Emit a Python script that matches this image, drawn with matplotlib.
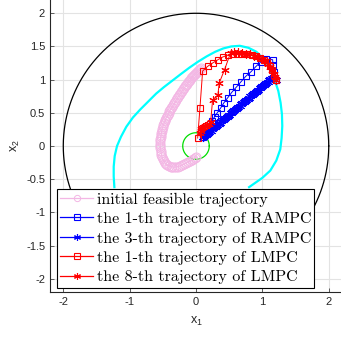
import numpy as np
import matplotlib
matplotlib.use("Agg")
import matplotlib.pyplot as plt
from matplotlib.lines import Line2D

# ---------------- data ----------------
init_x = [0.08, 0.065, 0.05, 0.035, 0.02, 0.005, -0.01, -0.025, -0.04, -0.055, -0.07, -0.085,
          -0.10, -0.115, -0.13, -0.145, -0.16, -0.175, -0.19, -0.205, -0.22, -0.235, -0.25,
          -0.265, -0.28, -0.295, -0.31, -0.325, -0.34, -0.355, -0.37, -0.385, -0.40, -0.41,
          -0.42, -0.435, -0.45, -0.46, -0.47, -0.48, -0.49, -0.50, -0.51, -0.515, -0.52,
          -0.525, -0.53, -0.535, -0.54, -0.54, -0.54, -0.535, -0.53, -0.525, -0.52, -0.51,
          -0.50, -0.485, -0.47, -0.45, -0.43, -0.405, -0.38, -0.355, -0.33, -0.30, -0.27,
          -0.24, -0.21, -0.18, -0.15, -0.12, -0.09, -0.065, -0.04, -0.02, 0.00]
init_y = [1.17, 1.155, 1.14, 1.125, 1.11, 1.095, 1.08, 1.065, 1.05, 1.035, 1.02, 1.00,
          0.98, 0.96, 0.94, 0.92, 0.90, 0.88, 0.86, 0.835, 0.81, 0.79, 0.77,
          0.745, 0.72, 0.695, 0.67, 0.645, 0.62, 0.595, 0.57, 0.545, 0.52, 0.495,
          0.47, 0.445, 0.42, 0.395, 0.37, 0.345, 0.32, 0.29, 0.26, 0.23, 0.20,
          0.17, 0.14, 0.105, 0.07, 0.035, 0.00, -0.035, -0.07, -0.105, -0.14, -0.17,
          -0.20, -0.225, -0.25, -0.27, -0.29, -0.30, -0.31, -0.315, -0.32, -0.315, -0.31,
          -0.30, -0.29, -0.275, -0.26, -0.24, -0.22, -0.205, -0.19, -0.175, -0.16]

rampc1_x = [1.20, 1.18, 1.16, 1.155, 1.05, 0.98, 0.905, 0.83, 0.75, 0.68, 0.61, 0.54, 0.48,
            0.42, 0.37, 0.32, 0.28, 0.24, 0.21, 0.18, 0.16, 0.14, 0.12, 0.11, 0.10]
rampc1_y = [1.00, 1.12, 1.22, 1.30, 1.31, 1.27, 1.20, 1.12, 1.05, 0.97, 0.89, 0.81, 0.73,
            0.65, 0.57, 0.50, 0.44, 0.38, 0.33, 0.28, 0.24, 0.21, 0.18, 0.16, 0.14]

rampc3_x = [1.20, 1.15, 1.12, 1.10, 1.08, 1.06, 1.04, 1.02, 1.00, 0.98, 0.96, 0.94, 0.92,
            0.90, 0.88, 0.86, 0.84, 0.82, 0.80, 0.78, 0.76, 0.74, 0.72, 0.70, 0.68, 0.66,
            0.64, 0.62, 0.60, 0.58, 0.56, 0.54, 0.52, 0.50, 0.48, 0.46, 0.44, 0.42, 0.40,
            0.38, 0.36, 0.34, 0.32, 0.30, 0.28, 0.26, 0.24, 0.22, 0.20, 0.18, 0.165, 0.15,
            0.135, 0.12, 0.11, 0.10]
rampc3_y = [1.00, 1.030, 1.004, 0.987, 0.970, 0.953, 0.936, 0.918, 0.901, 0.884, 0.867,
            0.850, 0.833, 0.816, 0.798, 0.781, 0.764, 0.747, 0.730, 0.713, 0.696, 0.678,
            0.661, 0.644, 0.627, 0.610, 0.593, 0.576, 0.558, 0.541, 0.524, 0.507, 0.490,
            0.473, 0.456, 0.439, 0.421, 0.404, 0.387, 0.370, 0.353, 0.336, 0.319, 0.301,
            0.284, 0.267, 0.250, 0.233, 0.216, 0.199, 0.186, 0.173, 0.160, 0.147, 0.139,
            0.130]

lmpc1_x = [1.20, 1.18, 1.15, 1.11, 1.07, 1.02, 0.96, 0.90, 0.84, 0.77, 0.70, 0.63, 0.56,
           0.48, 0.40, 0.33, 0.25, 0.175, 0.10, 0.06, 0.025]
lmpc1_y = [1.00, 1.07, 1.14, 1.20, 1.26, 1.30, 1.33, 1.35, 1.37, 1.38, 1.38, 1.38, 1.38,
           1.37, 1.34, 1.30, 1.25, 1.20, 1.13, 0.58, 0.12]

lmpc8_x = [1.20, 1.19, 1.17, 1.15, 1.12, 1.08, 1.04, 0.99, 0.94, 0.88, 0.82, 0.76, 0.70,
           0.64, 0.58, 0.52, 0.43, 0.35, 0.33, 0.25, 0.22, 0.19, 0.16, 0.13, 0.11, 0.09,
           0.08, 0.07, 0.06]
lmpc8_y = [1.00, 1.04, 1.09, 1.14, 1.19, 1.24, 1.28, 1.31, 1.34, 1.36, 1.38, 1.39, 1.40,
           1.41, 1.42, 1.40, 1.15, 0.95, 0.77, 0.69, 0.36, 0.33, 0.32, 0.30, 0.29, 0.27,
           0.25, 0.22, 0.19]

# visible boundary of the cyan set
cyan_x = [0.80, 1.00, 1.12, 1.21, 1.27, 1.29, 1.30, 1.295, 1.275, 1.24, 1.18, 1.10, 1.01,
          0.91, 0.79, 0.66, 0.53, 0.41, 0.29, 0.16, 0.03, -0.10, -0.22, -0.35, -0.48,
          -0.60, -0.72, -0.84, -0.95, -1.05, -1.13, -1.19, -1.225, -1.24, -1.24, -1.23]
cyan_y = [-0.62, -0.48, -0.37, -0.22, -0.05, 0.12, 0.30, 0.48, 0.65, 0.83, 1.01, 1.18, 1.32,
          1.42, 1.48, 1.51, 1.50, 1.47, 1.42, 1.35, 1.27, 1.18, 1.09, 0.99, 0.89,
          0.79, 0.67, 0.55, 0.43, 0.29, 0.14, 0.00, -0.15, -0.31, -0.46, -0.62]

labels = ["initial feasible trajectory",
          "the 1-th trajectory of RAMPC",
          "the 3-th trajectory of RAMPC",
          "the 1-th trajectory of LMPC",
          "the 8-th trajectory of LMPC"]

state_radius = 2.0
target_radius = 0.2

xticks = [-2, -1, 0, 1, 2]
yticks = [-2, -1.5, -1, -0.5, 0, 0.5, 1, 1.5, 2]

# ---------------- style ----------------
plt.rcParams['axes.unicode_minus'] = False
plt.rcParams['font.family'] = ['Liberation Sans', 'DejaVu Sans']
plt.rcParams['mathtext.fontset'] = 'custom'
plt.rcParams['mathtext.rm'] = 'Liberation Sans'
plt.rcParams['mathtext.it'] = 'Liberation Sans'

PINK = '#f3b6e4'
BLUE = '#0000ff'
RED = '#ff0000'
TXT = '#262626'

fig = plt.figure(figsize=(3.41, 3.37), dpi=100)
ax = fig.add_axes([50 / 341, 45 / 337, 292 / 341, 292 / 337])

th = np.linspace(0, 2 * np.pi, 500)
ax.plot(state_radius * np.cos(th), state_radius * np.sin(th), color='black', lw=0.9, zorder=2)
ax.plot(cyan_x, cyan_y, color='#00ffff', lw=1.6, zorder=2, solid_joinstyle='round')
ax.plot(target_radius * np.cos(th), target_radius * np.sin(th), color='#00dd00', lw=0.9, zorder=2)

ax.plot(init_x, init_y, '-o', color=PINK, ms=6.5, mfc='none', mew=0.7, lw=0.8, zorder=3)
ax.plot(rampc1_x, rampc1_y, '-s', color=BLUE, ms=5, mfc='none', mew=0.8, lw=0.7, zorder=4)
ax.plot(rampc3_x, rampc3_y, '-', marker=(6, 2, 0), color=BLUE, ms=6.5, mew=0.8, lw=0.7, zorder=5)
ax.plot(lmpc1_x, lmpc1_y, '-s', color=RED, ms=5, mfc='none', mew=0.8, lw=0.7, zorder=6)
ax.plot(lmpc8_x, lmpc8_y, '-', marker=(6, 2, 0), color=RED, ms=6, mew=0.8, lw=0.7, zorder=7)

ax.set_xlim(-2.2, 2.2)
ax.set_ylim(-2.2, 2.2)
ax.set_xticks(xticks)
ax.set_yticks(yticks)
ax.set_xticklabels([f"{t:g}" for t in xticks])
ax.set_yticklabels([f"{t:g}" for t in yticks])
ax.grid(True, color='#e3e3e3', lw=0.8, zorder=0)
ax.set_axisbelow(True)
ax.tick_params(direction='in', length=3, width=0.5, colors=TXT, labelsize=8, pad=3.5)
for s in ['top', 'right']:
    ax.spines[s].set_visible(False)
for s in ['left', 'bottom']:
    ax.spines[s].set_color(TXT)
    ax.spines[s].set_linewidth(0.8)

ax.set_xlabel(r'$\mathregular{x_1}$', fontsize=9, color=TXT, labelpad=6)
ax.set_ylabel(r'$\mathregular{x_2}$', fontsize=9, color=TXT, labelpad=3)

handles = [
    Line2D([], [], color=PINK, marker='o', ms=4.5, mfc='none', mew=0.7, lw=0.9),
    Line2D([], [], color=BLUE, marker='s', ms=4.5, mfc='none', mew=0.8, lw=0.9),
    Line2D([], [], color=BLUE, marker=(6, 2, 0), ms=5, mew=0.8, lw=0.9),
    Line2D([], [], color=RED, marker='s', ms=4.5, mfc='none', mew=0.8, lw=0.9),
    Line2D([], [], color=RED, marker=(6, 2, 0), ms=5, mew=0.8, lw=0.9),
]
leg = ax.legend(handles, labels, loc='lower left', bbox_to_anchor=(0.023, 0.015),
                borderaxespad=0, prop={'family': 'cmr10', 'size': 11.5},
                fancybox=False, framealpha=1, edgecolor='black',
                handlelength=2.1, handletextpad=0.2, labelspacing=0.33,
                borderpad=0.2)
leg.get_frame().set_linewidth(0.8)
leg.set_zorder(10)

fig.savefig('out.png', dpi=100)
